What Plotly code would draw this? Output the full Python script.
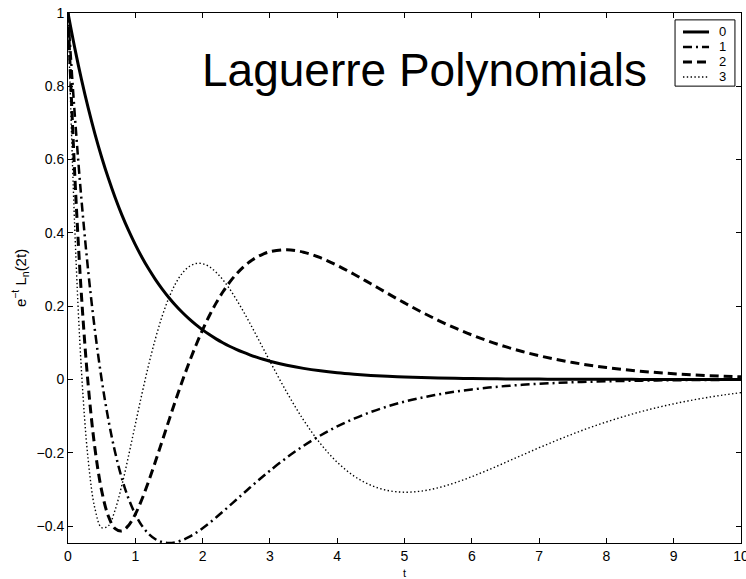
import plotly.graph_objects as go

t = [0, 0.1, 0.2, 0.3, 0.4, 0.5, 0.6, 0.7, 0.8, 0.9, 1.0, 1.1, 1.2, 1.3, 1.4, 1.5,
     1.6, 1.7, 1.8, 1.9, 2.0, 2.1, 2.2, 2.3, 2.4, 2.5, 2.6, 2.7, 2.8, 2.9, 3.0,
     3.25, 3.5, 3.75, 4.0, 4.25, 4.5, 4.75, 5.0, 5.25, 5.5, 5.75, 6.0, 6.25, 6.5,
     6.75, 7.0, 7.25, 7.5, 7.75, 8.0, 8.25, 8.5, 8.75, 9.0, 9.25, 9.5, 9.75, 10.0]

n0 = [1.0, 0.9048, 0.8187, 0.7408, 0.6703, 0.6065, 0.5488, 0.4966, 0.4493, 0.4066,
      0.3679, 0.3329, 0.3012, 0.2725, 0.2466, 0.2231, 0.2019, 0.1827, 0.1653, 0.1496,
      0.1353, 0.1225, 0.1108, 0.1003, 0.0907, 0.0821, 0.0743, 0.0672, 0.0608, 0.0550,
      0.0498, 0.0388, 0.0302, 0.0235, 0.0183, 0.0143, 0.0111, 0.0087, 0.0067, 0.0052,
      0.0041, 0.0032, 0.0025, 0.0019, 0.0015, 0.0012, 0.0009, 0.0007, 0.0006, 0.0004,
      0.0003, 0.0003, 0.0002, 0.0002, 0.0001, 0.0001, 0.0001, 0.0001, 0.0]

n1 = [1.0, 0.7239, 0.4912, 0.2963, 0.1341, 0.0, -0.1098, -0.1986, -0.2696, -0.3253,
      -0.3679, -0.3995, -0.4217, -0.4361, -0.4439, -0.4463, -0.4442, -0.4384, -0.4298,
      -0.4188, -0.4060, -0.3919, -0.3767, -0.3609, -0.3447, -0.3283, -0.3120, -0.2957,
      -0.2797, -0.2641, -0.2489, -0.2133, -0.1812, -0.1529, -0.1282, -0.1070, -0.0889,
      -0.0735, -0.0606, -0.0499, -0.0409, -0.0334, -0.0273, -0.0222, -0.0180, -0.0146,
      -0.0119, -0.0096, -0.0077, -0.0062, -0.0050, -0.0040, -0.0033, -0.0026, -0.0021,
      -0.0017, -0.0013, -0.0011, -0.0009]

n2 = [1.0, 0.5610, 0.2292, -0.0148, -0.1877, -0.3033, -0.3732, -0.4072, -0.4134,
      -0.3984, -0.3679, -0.3262, -0.2771, -0.2235, -0.1677, -0.1116, -0.0565, -0.0037,
      0.0463, 0.0927, 0.1353, 0.1739, 0.2083, 0.2386, 0.2649, 0.2873, 0.3060, 0.3212,
      0.3332, 0.3422, 0.3485, 0.3538, 0.3473, 0.3322, 0.3114, 0.2871, 0.2611, 0.2347,
      0.2089, 0.1843, 0.1614, 0.1405, 0.1215, 0.1045, 0.0894, 0.0763, 0.0647, 0.0548,
      0.0462, 0.0388, 0.0325, 0.0272, 0.0226, 0.0188, 0.0156, 0.0130, 0.0107, 0.0089,
      0.0073]

n3 = [1.0, 0.4150, 0.0240, -0.2193, -0.3521, -0.4044, -0.3995, -0.3562, -0.2888,
      -0.2082, -0.1226, -0.0382, 0.0410, 0.1119, 0.1730, 0.2231, 0.2622, 0.2903,
      0.3081, 0.3163, 0.3158, 0.3076, 0.2928, 0.2724, 0.2475, 0.2189, 0.1876, 0.1543,
      0.1198, 0.0848, 0.0498, -0.0347, -0.1107, -0.1749, -0.2259, -0.2636, -0.2888,
      -0.3030, -0.3077, -0.3047, -0.2956, -0.2820, -0.2653, -0.2464, -0.2265, -0.2063,
      -0.1863, -0.1671, -0.1488, -0.1317, -0.1160, -0.1016, -0.0886, -0.0769, -0.0665,
      -0.0573, -0.0492, -0.0421, -0.0360]

names = ["0", "1", "2", "3"]
values = [n0, n1, n2, n3]
widths = [3, 2.5, 3, 1.4]
dashes = ["solid", "9px,4px,2px,4px", "9px,5px", "1.4px,2.4px"]

x_ticks = [0, 1, 2, 3, 4, 5, 6, 7, 8, 9, 10]
y_ticks = [-0.4, -0.2, 0, 0.2, 0.4, 0.6, 0.8, 1]
y_ticktext = ["\u22120.4", "\u22120.2", "0", "0.2", "0.4", "0.6", "0.8", "1"]

FONT = "Liberation Sans, Arial, Helvetica, sans-serif"

fig = go.Figure()
for name, ys, w, dash in zip(names, values, widths, dashes):
    fig.add_trace(go.Scatter(x=t, y=ys, mode="lines", name=name, showlegend=False,
                             line=dict(color="black", width=w, dash=dash,
                                       shape="spline", smoothing=1)))

axis_common = dict(showline=True, linecolor="black", linewidth=1, mirror="allticks",
                   ticks="inside", ticklen=5, tickcolor="black", showgrid=False,
                   zeroline=False, automargin=False, ticklabeloverflow="allow",
                   tickfont=dict(size=14, color="black", family=FONT))

# legend box drawn in paper coordinates (top-right inside the axes)
shapes = [dict(type="rect", xref="paper", yref="paper", x0=0.902, x1=0.991,
               y0=0.862, y1=0.987, fillcolor="white",
               line=dict(color="black", width=1), layer="above")]
annotations = []
row_top = 0.9642
row_step = 0.0283
for i, (name, w, dash) in enumerate(zip(names, widths, dashes)):
    yy = row_top - i * row_step
    shapes.append(dict(type="line", xref="paper", yref="paper", x0=0.9138, x1=0.9525,
                       y0=yy, y1=yy, line=dict(color="black", width=w, dash=dash),
                       layer="above"))
    annotations.append(dict(text=name, xref="paper", yref="paper", x=0.964, y=yy,
                            xanchor="left", yanchor="middle", showarrow=False,
                            font=dict(size=13, family=FONT, color="black")))

annotations.append(dict(text="Laguerre Polynomials", x=5.29, y=0.945, xref="x", yref="paper",
                        xanchor="center", yanchor="top", showarrow=False,
                        font=dict(size=46, family=FONT, color="black")))

fig.update_layout(
    width=746, height=579,
    margin=dict(l=68, r=5, t=13, b=36),
    paper_bgcolor="white", plot_bgcolor="white",
    font=dict(family=FONT, color="black"),
    xaxis=dict(range=[0, 10], tickvals=x_ticks, ticktext=[str(v) for v in x_ticks],
               title=dict(text="t", font=dict(size=11), standoff=6), **axis_common),
    yaxis=dict(range=[-0.4463, 1], tickvals=y_ticks, ticktext=y_ticktext,
               title=dict(text="e<sup>\u2212t</sup> L<sub>n</sub>(2t)", font=dict(size=15),
                          standoff=6),
               **axis_common),
    showlegend=False,
    shapes=shapes,
    annotations=annotations,
)

fig.write_html("out.html", config={"displayModeBar": False},
               post_script="document.body.style.margin='0px';")
